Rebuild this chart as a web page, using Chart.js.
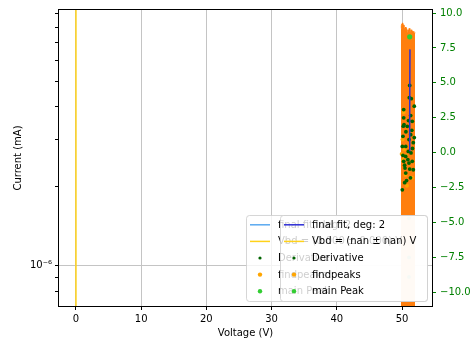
<!DOCTYPE html>
<html><head><meta charset="utf-8">
<script src="https://cdn.jsdelivr.net/npm/chart.js@4.4.1/dist/chart.umd.min.js"></script>
<style>html,body{margin:0;padding:0;background:#fff}</style>
</head><body>
<canvas id="c" width="470" height="342"></canvas>
<script>
// ---- data ----
const xTicks = [0, 10, 20, 30, 40, 50];
const rightTicks = [-10, -7.5, -5, -2.5, 0, 2.5, 5, 7.5, 10];
const leftTicks = [8e-7, 9e-7, 1e-6, 2e-6, 3e-6, 4e-6, 5e-6, 6e-6, 7e-6, 8e-6, 9e-6];
const leftMajor = [1e-6];

const vbdX = [0, 0];
const vbdY = [1e-8, 1e-3];

const fitX = [51.22, 51.21, 51.20, 51.19, 51.18, 51.18, 51.19];
const fitY = [7.4, 6.2, 5.0, 3.8, 2.6, 1.4, 0.1];

const peakX = [51.18];
const peakY = [8.3];

const derivX = [51.18, 51.12, 51.42, 51.88, 50.26, 50.26, 51.33, 51.57, 50.31, 50.81, 50.15, 51.33, 51.88, 51.07, 51.73, 50.05, 50.57, 50.15, 50.57, 50.97, 51.38, 50.26, 51.07, 51.57, 50.46, 51.18, 51.73, 50.57, 50.41, 50.05, 50.6, 51.5, 50.9, 51.3, 50.2, 51.6, 50.7, 51.0, 50.4, 51.07, 51.07, 51.07];
const derivY = [4.82, 3.94, 3.87, 3.33, 3.09, 2.50, 2.66, 2.25, 2.01, 1.89, 1.17, 1.29, 1.08, 0.94, 0.72, 0.45, 0.45, -0.19, -0.27, 0.09, -0.02, -0.62, -0.74, -0.62, -1.10, -1.17, -1.22, -1.46, -2.15, -2.66, 1.5, 1.6, -0.5, -1.8, 1.9, 0.3, -2.0, 2.3, -0.9, -4.7, -7.5, -8.9];

const findX = [50.25, 50.46, 50.35, 50.08, 50.15, 50.53, 50.76, 51.53, 49.95, 50.6];
const findY = [2.87, 0.43, 0.22, 0.94, -0.5, -1.6, -2.37, -1.8, -0.1, -0.2];

const bandX = [49.85, 49.9, 50.0, 50.1, 50.2, 50.3, 50.4, 50.5, 50.6, 50.7, 50.8, 50.9, 51.0, 51.1, 51.2, 51.3, 51.4, 51.5, 51.6, 51.7, 51.8, 51.9, 52.0];
const bandY = [8.9, 9.1, 9.25, 9.3, 9.15, 9.0, 8.8, 9.0, 8.7, 8.9, 8.6, 8.8, 8.7, 8.9, 8.7, 8.6, 8.8, 8.6, 8.7, 8.6, 8.7, 8.5, 8.6];

const legendLabelsA = ["final fit, deg: 2", "Vbd = (0.000 ± 0.000) V", "Derivative", "findpeaks", "main Peak"];
const legendLabelsB = ["final fit, deg: 2", "Vbd = (nan ± nan) V", "Derivative", "findpeaks", "main Peak"];

// ---- helpers ----
const pts = (xs, ys) => xs.map((x, i) => ({x: x, y: ys[i]}));
const GREEN = '#008000';
const FONT = '"DejaVu Sans", "Liberation Sans", sans-serif';

Chart.defaults.font.family = FONT;
Chart.defaults.font.size = 10;
Chart.defaults.color = '#000';

const legendStyles = [
  {labels: legendLabelsA, minWidth: 181, items: [
    {kind: 'line', color: '#5aa9f0'}, {kind: 'line', color: '#ffd21a'},
    {kind: 'dot', color: '#006400', r: 1.6}, {kind: 'dot', color: '#ffa500', r: 2.2}, {kind: 'dot', color: '#32cd32', r: 2.2}]},
  {labels: legendLabelsB, minWidth: 147, items: [
    {kind: 'line', color: '#2e2ed6'}, {kind: 'line', color: '#ffd21a'},
    {kind: 'dot', color: '#006400', r: 1.6}, {kind: 'dot', color: '#ffa500', r: 2.2}, {kind: 'dot', color: '#32cd32', r: 2.2}]}
];

const framePlugin = {
  id: 'frame',
  afterDatasetsDraw(chart) {
    const {ctx, chartArea: a} = chart;
    ctx.save();
    ctx.strokeStyle = '#000';
    ctx.lineWidth = 1;
    ctx.strokeRect(Math.round(a.left) - 0.5, Math.round(a.top) - 0.5, Math.round(a.right - a.left) + 1, Math.round(a.bottom - a.top) + 1);
    ctx.restore();
  },
  afterDraw(chart) {
    const {ctx, chartArea: a} = chart;
    ctx.save();
    ctx.font = '10px ' + FONT;
    ctx.textBaseline = 'middle';
    const pad = 4, rowH = 11.6, gap = 5, handle = 20, hpad = 8;
    const right = a.right - 5, bottom = a.bottom - 5;
    const h = pad * 2 + rowH * 5 + gap * 4;
    legendStyles.forEach(leg => {
      const maxW = Math.max(...leg.labels.map(t => ctx.measureText(t).width));
      const w = Math.max(leg.minWidth, pad * 2 + handle + hpad + maxW);
      const left = right - w, top = bottom - h;
      ctx.beginPath();
      if (ctx.roundRect) ctx.roundRect(Math.round(left) + 0.5, Math.round(top) + 0.5, Math.round(w), Math.round(h), 3);
      else ctx.rect(Math.round(left) + 0.5, Math.round(top) + 0.5, Math.round(w), Math.round(h));
      ctx.fillStyle = 'rgba(255,255,255,0.8)';
      ctx.fill();
      ctx.strokeStyle = 'rgba(204,204,204,0.8)';
      ctx.lineWidth = 1;
      ctx.stroke();
      leg.items.forEach((it, i) => {
        const cy = top + pad + rowH / 2 + i * (rowH + gap);
        const hx = left + pad;
        if (it.kind === 'line') {
          ctx.beginPath();
          ctx.strokeStyle = it.color;
          ctx.lineWidth = 1.5;
          ctx.moveTo(hx, cy); ctx.lineTo(hx + handle, cy);
          ctx.stroke();
        } else {
          ctx.beginPath();
          ctx.fillStyle = it.color;
          ctx.arc(hx + handle / 2, cy, it.r, 0, Math.PI * 2);
          ctx.fill();
        }
        ctx.fillStyle = '#000';
        ctx.fillText(leg.labels[i], hx + handle + hpad, cy + 0.5);
      });
    });
    ctx.restore();
  }
};

const isMajor = v => leftMajor.some(m => Math.abs(Math.log10(v) - Math.log10(m)) < 1e-6);

new Chart(document.getElementById('c'), {
  type: 'line',
  data: {
    datasets: [
      {label: 'main Peak', data: pts(peakX, peakY), yAxisID: 'y2', showLine: false,
       pointRadius: 2.6, pointBorderWidth: 0, pointBackgroundColor: '#32cd32'},
      {label: 'final fit, deg: 2', data: pts(fitX, fitY), yAxisID: 'y2', borderColor: '#2e2ed6',
       borderWidth: 1.5, pointRadius: 0, tension: 0.4, fill: false},
      {label: 'Derivative', data: pts(derivX, derivY), yAxisID: 'y2', showLine: false,
       pointRadius: 1.9, pointBorderWidth: 0, pointBackgroundColor: '#006400'},
      {label: 'findpeaks', data: pts(findX, findY), yAxisID: 'y2', showLine: false,
       pointRadius: 2.0, pointBorderWidth: 0, pointBackgroundColor: '#ffa500'},
      {label: 'data', data: pts(bandX, bandY), yAxisID: 'y2', borderColor: '#ff7f0e',
       backgroundColor: '#ff7f0e', borderWidth: 1, pointRadius: 0, fill: 'start', tension: 0},
      {label: 'Vbd', data: pts(vbdX, vbdY), yAxisID: 'y', borderColor: '#ffd21a',
       borderWidth: 1.5, pointRadius: 0, fill: false}
    ]
  },
  options: {
    responsive: false,
    animation: false,
    events: [],
    layout: {padding: {left: 8, top: 10, right: 0, bottom: 0}},
    plugins: {legend: {display: false}, tooltip: {enabled: false}},
    scales: {
      x: {
        type: 'linear', position: 'bottom', min: -2.6, max: 54.6,
        afterFit: s => { s.height = 36; },
        afterBuildTicks: s => { s.ticks = xTicks.map(v => ({value: v})); },
        ticks: {autoSkip: false, maxRotation: 0, padding: 3, callback: v => String(v)},
        grid: {color: '#c4c4c4', lineWidth: 1, tickColor: '#000', tickLength: 4},
        border: {display: false},
        title: {display: true, text: 'Voltage (V)', padding: {top: 0, bottom: 3}}
      },
      y: {
        type: 'logarithmic', position: 'left', min: 7.05e-7, max: 9.28e-6,
        afterFit: s => { s.width = 51; },
        afterBuildTicks: s => { s.ticks = leftTicks.map(v => ({value: v, major: isMajor(v)})); },
        ticks: {autoSkip: false, padding: 3, callback: v => isMajor(v) ? '10\u207B\u2076' : ''},
        grid: {
          color: c => (c.tick && isMajor(c.tick.value)) ? '#c4c4c4' : 'rgba(0,0,0,0)',
          tickColor: '#000', tickLength: 4, lineWidth: 1
        },
        border: {display: false},
        title: {display: true, text: 'Current (mA)', padding: {top: 4, bottom: 0}}
      },
      y2: {
        type: 'linear', position: 'right', min: -10.98, max: 10.22,
        afterFit: s => { s.width = 38; },
        afterBuildTicks: s => { s.ticks = rightTicks.map(v => ({value: v})); },
        ticks: {autoSkip: false, color: GREEN, padding: 4,
                callback: v => v.toFixed(1).replace('-', '\u2212')},
        grid: {drawOnChartArea: false, tickColor: GREEN, tickLength: 4},
        border: {display: false}
      }
    }
  },
  plugins: [framePlugin]
});
</script>
</body></html>
